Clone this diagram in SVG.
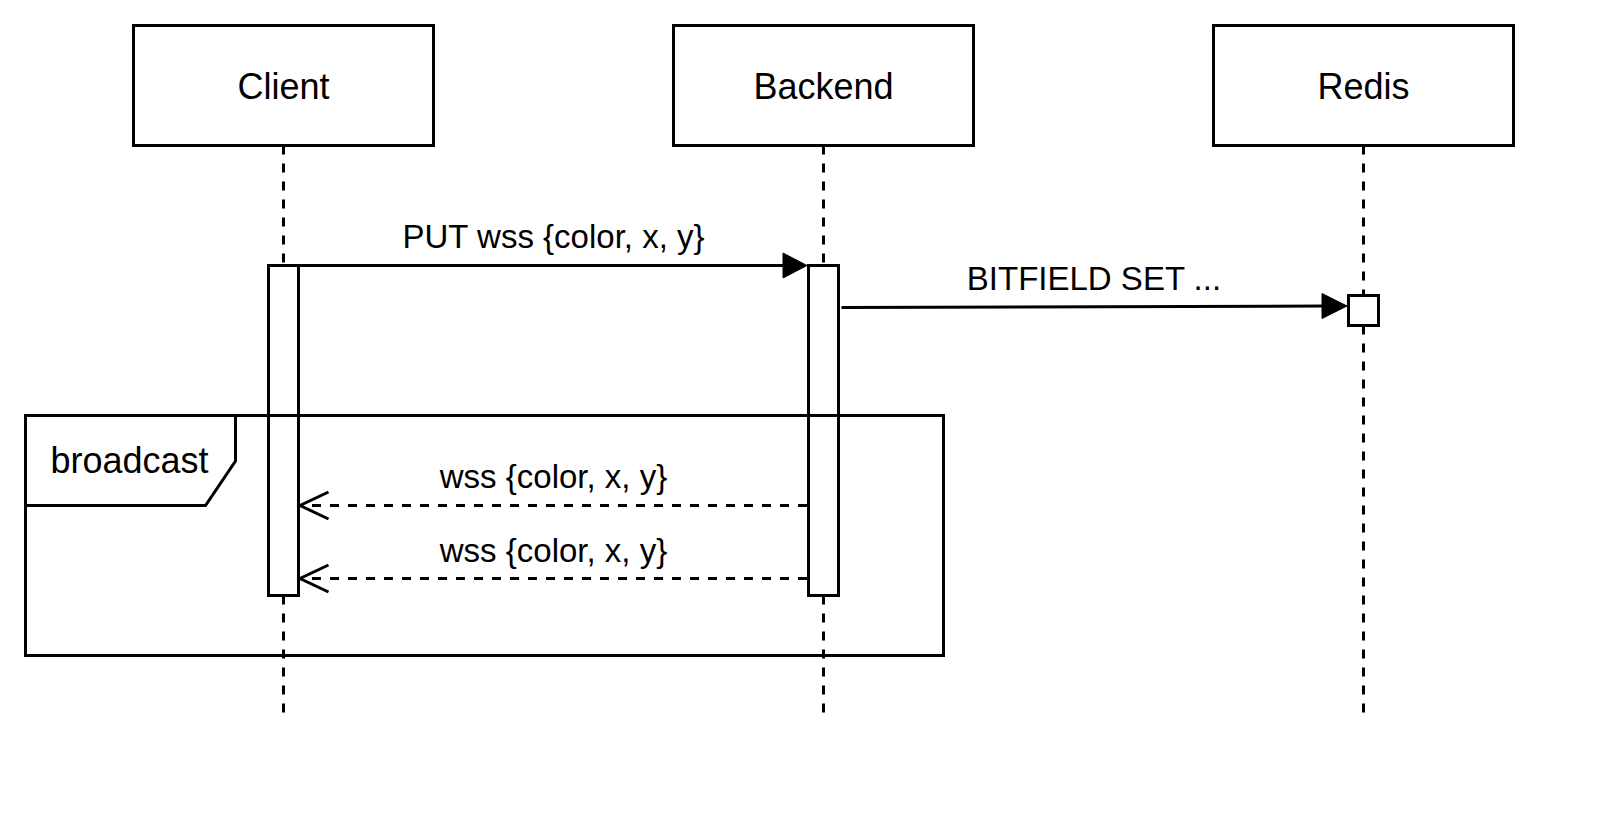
<svg xmlns="http://www.w3.org/2000/svg" width="1611" height="813" viewBox="0 0 1611 813">
  <style>
    .box { fill: #ffffff; stroke: #000000; stroke-width: 3; }
    .life { fill: none; stroke: #000000; stroke-width: 3; stroke-dasharray: 9 9; }
    .frame { fill: none; stroke: #000000; stroke-width: 3; }
    .msg { fill: none; stroke: #000000; stroke-width: 3; }
    .ret { fill: none; stroke: #000000; stroke-width: 3; stroke-dasharray: 9 9; }
    .open { fill: none; stroke: #000000; stroke-width: 3; }
    .head { fill: #000000; stroke: #000000; stroke-width: 1; }
    .name { font-family: "Liberation Sans", Arial, sans-serif; font-size: 36px; fill: #000000; text-anchor: middle; }
    .lbl { font-family: "Liberation Sans", Arial, sans-serif; font-size: 33px; fill: #000000; text-anchor: middle; }
  </style>
  <rect x="0" y="0" width="1611" height="813" fill="#ffffff"/>

  <g id="node-client">
    <line class="life" x1="283.5" y1="145.5" x2="283.5" y2="715.5"/>
    <rect class="box" x="133.5" y="25.5" width="300" height="120"/>
    <text class="name" x="283.5" y="99.3">Client</text>
    <rect class="box" x="268.5" y="265.5" width="30" height="330"/>
  </g>

  <g id="node-backend">
    <line class="life" x1="823.5" y1="145.5" x2="823.5" y2="715.5"/>
    <rect class="box" x="673.5" y="25.5" width="300" height="120"/>
    <text class="name" x="823.5" y="99.3">Backend</text>
    <rect class="box" x="808.5" y="265.5" width="30" height="330"/>
  </g>

  <g id="node-redis">
    <line class="life" x1="1363.5" y1="145.5" x2="1363.5" y2="715.5"/>
    <rect class="box" x="1213.5" y="25.5" width="300" height="120"/>
    <text class="name" x="1363.5" y="99.3">Redis</text>
    <rect class="box" x="1348.5" y="295.5" width="30" height="30"/>
  </g>

  <g id="frame-broadcast">
    <rect class="frame" x="25.5" y="415.5" width="918" height="240"/>
    <path class="frame" d="M25.5,415.5 H235.5 V461 L205.5,505.5 H25.5"/>
    <text class="name" x="129.5" y="472.7">broadcast</text>
  </g>

  <g id="connectors">
    <g id="msg-put">
      <line class="msg" x1="298.5" y1="265.5" x2="786" y2="265.5"/>
      <polygon class="head" points="807,265.5 783,253 783,278"/>
      <text class="lbl" x="553.5" y="248.3">PUT wss {color, x, y}</text>
    </g>
    <g id="msg-bitfield">
      <line class="msg" x1="841.5" y1="307.5" x2="1325" y2="306"/>
      <polygon class="head" points="1347,306 1322,293.5 1322,318.5"/>
      <text class="lbl" x="1094" y="289.5">BITFIELD SET ...</text>
    </g>
    <g id="msg-ret1">
      <line class="ret" x1="807" y1="505.5" x2="301" y2="505.5"/>
      <polyline class="open" points="328.5,492 300,505.5 328.5,519"/>
      <text class="lbl" x="553.5" y="488.3">wss {color, x, y}</text>
    </g>
    <g id="msg-ret2">
      <line class="ret" x1="807" y1="578.5" x2="301" y2="578.5"/>
      <polyline class="open" points="328.5,565 300,578.5 328.5,592"/>
      <text class="lbl" x="553.5" y="561.7">wss {color, x, y}</text>
    </g>
  </g>
</svg>
